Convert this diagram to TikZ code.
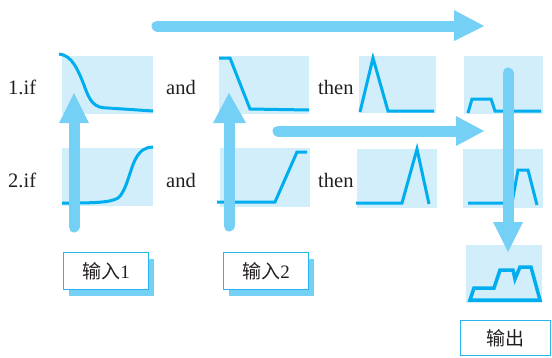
\documentclass[tikz,border=0pt]{standalone}
\usepackage{fontspec}
\setmainfont{Liberation Serif}
\newfontfamily\cjk{Noto Sans CJK SC}
\usetikzlibrary{shadows}
\definecolor{panelc}{HTML}{D2EEFA}
\definecolor{curvec}{HTML}{00AEEF}
\definecolor{arrowc}{HTML}{75D0F5}
\definecolor{boxc}{HTML}{29B6F0}
\definecolor{txtc}{HTML}{231F20}
\begin{document}
\begin{tikzpicture}[x=1pt,y=-1pt,
  panel/.style={fill=panelc, draw=none, inner sep=0, anchor=north west},
  curve/.style={draw=curvec, line width=3pt, line join=miter},
  shaft/.style={draw=arrowc, line width=11pt, line cap=round},
  head/.style={fill=arrowc, draw=none},
  lbl/.style={anchor=base west, inner sep=0, text=txtc, font=\fontsize{20.5}{24}\selectfont},
  inbox/.style={draw=boxc, line width=1.3pt, fill=white, inner sep=0, anchor=north west,
    text=txtc, font=\fontsize{19}{22}\selectfont},
  shadowed/.style={drop shadow={shadow xshift=5pt, shadow yshift=-6pt, fill=arrowc, opacity=1}}
]
\useasboundingbox (0,0) rectangle (552,357);

% panels
\node[panel, minimum width=91, minimum height=58] (p11) at (62,56) {};
\node[panel, minimum width=90, minimum height=58] (p12) at (219,56) {};
\node[panel, minimum width=77, minimum height=57] (p13) at (359,56) {};
\node[panel, minimum width=79, minimum height=58] (p14) at (464,56) {};
\node[panel, minimum width=91, minimum height=58] (p21) at (62,148) {};
\node[panel, minimum width=90, minimum height=59] (p22) at (220,148) {};
\node[panel, minimum width=80, minimum height=59] (p23) at (357,149) {};
\node[panel, minimum width=80, minimum height=59] (p24) at (463,149) {};
\node[panel, minimum width=76, minimum height=58] (pout) at (466,245) {};

% curves row 1
\draw[curve] (59,54) .. controls (72,55) and (78,70) .. (84,85)
  .. controls (90,102) and (94,108) .. (108,108) -- (153,111);
\draw[curve] (219,58) -- (230,58) -- (250,109) -- (309,110);
\draw[curve] (360,112) -- (373,58) -- (388,111) -- (434,111);
\draw[curve] (468,113) -- (472,99) -- (491,99) -- (495,111) -- (541,111);
% curves row 2
\draw[curve] (62,203) .. controls (90,203) and (110,203) .. (118,198)
  .. controls (126,192) and (130,170) .. (135,160)
  .. controls (140,150) and (146,147) .. (153,147);
\draw[curve] (217,202) -- (275,202) -- (297,152) -- (307,152);
\draw[curve] (356,203) -- (402,203) -- (417,149) -- (429,204);
\draw[curve] (468,203) -- (512,203) -- (518,170) -- (528,170) -- (537,205);
% output curve
\draw[curve, line width=3.5pt] (470,300) -- (474,288) -- (494,288) -- (500,270) -- (513,270)
  -- (515,279) -- (520,267) -- (531,267) -- (540,300) -- cycle;

% labels
\node[lbl] (l1) at (8,94) {1.if};
\node[lbl] (a1) at (166,94) {and};
\node[lbl] (t1) at (318,94) {then};
\node[lbl] (l2) at (8,187) {2.if};
\node[lbl] (a2) at (166,187) {and};
\node[lbl] (t2) at (318,187) {then};

% input / output boxes
\node[inbox, shadowed, minimum width=85, minimum height=37] (in1) at (63,252) {{\cjk 输入}1};
\node[inbox, shadowed, minimum width=85, minimum height=37] (in2) at (223,252) {{\cjk 输入}2};
\node[inbox, minimum width=90, minimum height=35] (out) at (460,320) {{\cjk 输出}};

% arrows
\coordinate (a1s) at (157,26); \coordinate (a1e) at (456,26);
\draw[shaft] (a1s) -- (a1e);
\fill[head] (454,10) -- (484,26) -- (454,41) -- cycle;

\coordinate (a2s) at (278,131); \coordinate (a2e) at (458,131);
\draw[shaft] (a2s) -- (a2e);
\fill[head] (456,116) -- (484,131) -- (456,146) -- cycle;

\coordinate (v1s) at (74,227); \coordinate (v1e) at (74,121);
\draw[shaft] (v1s) -- (v1e);
\fill[head] (59,123) -- (74,93) -- (89,123) -- cycle;

\coordinate (v2s) at (229,226); \coordinate (v2e) at (229,121);
\draw[shaft] (v2s) -- (v2e);
\fill[head] (213,123) -- (229,93) -- (246,123) -- cycle;

\coordinate (v3s) at (508,73); \coordinate (v3e) at (508,224);
\draw[shaft] (v3s) -- (v3e);
\fill[head] (493,222) -- (508,252) -- (523,222) -- cycle;
\end{tikzpicture}
\end{document}
